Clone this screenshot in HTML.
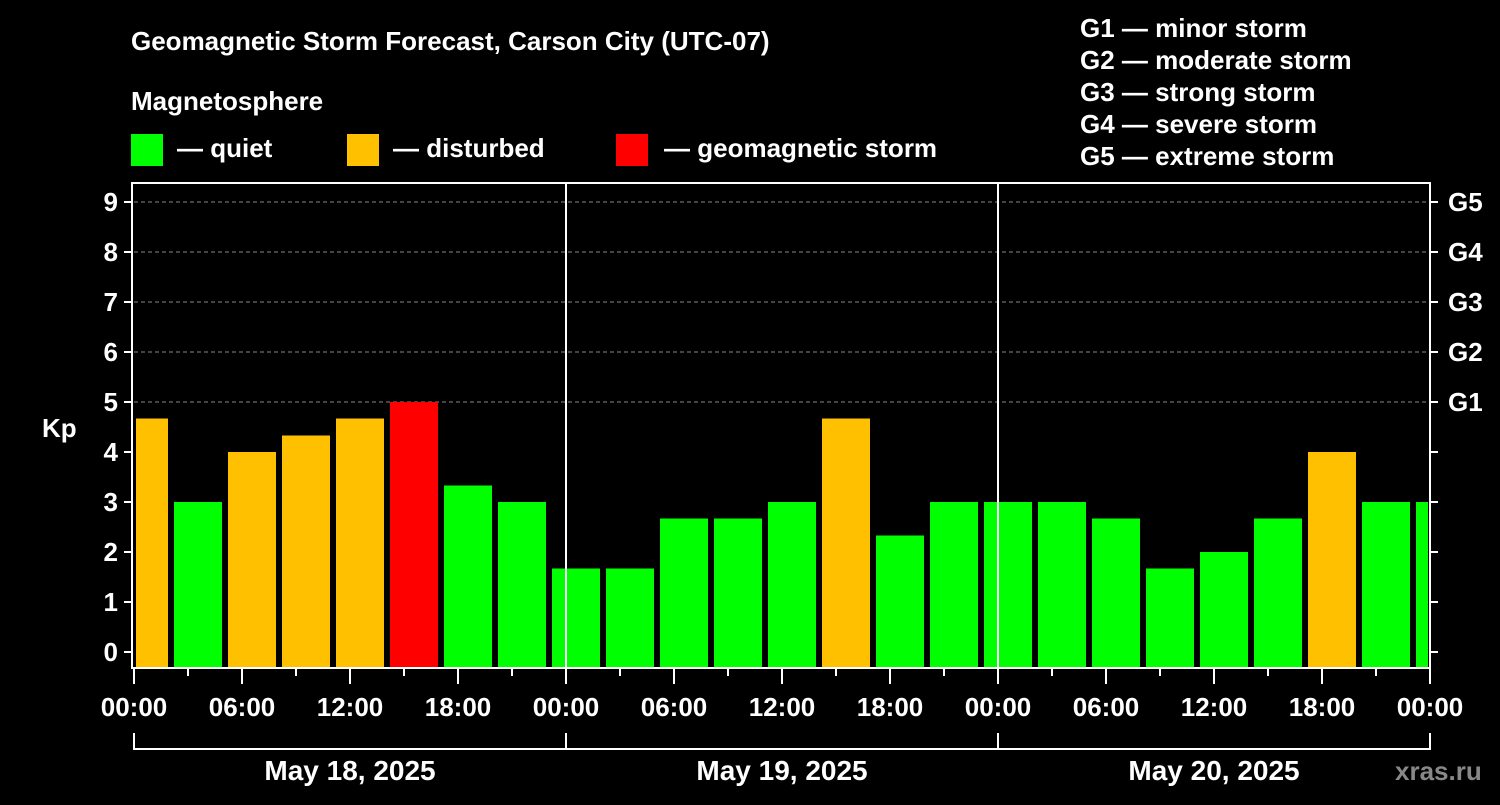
<!DOCTYPE html>
<html><head><meta charset="utf-8"><style>
body{margin:0;background:#000;width:1500px;height:800px;overflow:hidden}
svg text{font-family:"Liberation Sans",Arial,sans-serif;font-weight:bold;fill:#fff}
</style></head><body>
<svg id="chart" width="1500" height="800" xmlns="http://www.w3.org/2000/svg">
<rect width="1500" height="800" fill="#000"/>
<text x="131" y="50" font-size="26">Geomagnetic Storm Forecast, Carson City (UTC-07)</text>
<text x="131" y="110" font-size="26">Magnetosphere</text>
<g><rect x="131" y="134" width="32" height="32" fill="#00ff00"/><text x="177" y="157" font-size="26">— quiet</text></g>
<g><rect x="347" y="134" width="32" height="32" fill="#ffc000"/><text x="393" y="157" font-size="26">— disturbed</text></g>
<g><rect x="616" y="134" width="32" height="32" fill="#ff0000"/><text x="664" y="157" font-size="26">— geomagnetic storm</text></g>
<g font-size="26">
<text x="1080" y="37">G1 — minor storm</text>
<text x="1080" y="69">G2 — moderate storm</text>
<text x="1080" y="101">G3 — strong storm</text>
<text x="1080" y="133">G4 — severe storm</text>
<text x="1080" y="165">G5 — extreme storm</text>
</g>
<g id="grid"></g>
<g id="bars"></g>
<g id="axes"></g>
<text x="42" y="437" font-size="26">Kp</text>
<text x="1395" y="780" font-size="26" style="fill:#888">xras.ru</text>
</svg>
<script>
const kpValues=[4.67,3,4,4.33,4.67,5,3.33,3,1.67,1.67,2.67,2.67,3,4.67,2.33,3,3,3,2.67,1.67,2,2.67,4,3,3];
const yTicks=[0,1,2,3,4,5,6,7,8,9];
const gLabels=["G1","G2","G3","G4","G5"];
const hourLabels=["00:00","06:00","12:00","18:00","00:00","06:00","12:00","18:00","00:00","06:00","12:00","18:00","00:00"];
const dayLabels=["May 18, 2025","May 19, 2025","May 20, 2025"];
const NS="http://www.w3.org/2000/svg";
const L=134,R=1430,T=183,B=668;
const x=h=>L+(R-L)*h/72;
const y=v=>652-50*v;
function mk(p,t,a){const e=document.createElementNS(NS,t);for(const k in a)e.setAttribute(k,a[k]);p.appendChild(e);return e;}
const grid=document.getElementById('grid'),bars=document.getElementById('bars'),axes=document.getElementById('axes');
for(let v=5;v<=9;v++){const l=mk(grid,'line',{x1:L,x2:R,y1:y(v),y2:y(v),stroke:'#888','stroke-dasharray':'4,3','stroke-width':1});

}
kpValues.forEach((v,i)=>{
 const s=i*3-1,e=s+3;
 let x1=Math.max(x(s)+4,L+2),x2=Math.min(x(e)-2,R-2);
 const c=v>=5?'#ff0000':(v>=4?'#ffc000':'#00ff00');
 const r=mk(bars,'rect',{x:x1,y:y(v),width:x2-x1,height:B-y(v),fill:c});
 
 
});
[x(24),x(48)].forEach(xx=>{const l=mk(axes,'line',{x1:xx,x2:xx,y1:T,y2:B,stroke:'#fff','stroke-width':2});

});
const fr=mk(axes,'rect',{x:L-2,y:T,width:R-L+2,height:B-T,fill:'none',stroke:'#fff','stroke-width':2});


yTicks.forEach(v=>{
 mk(axes,'line',{x1:L-10,x2:L-2,y1:y(v),y2:y(v),stroke:'#fff','stroke-width':2});
 mk(axes,'line',{x1:R,x2:R+8,y1:y(v),y2:y(v),stroke:'#fff','stroke-width':2});
 const t=mk(axes,'text',{x:L-16,y:y(v)+9,'text-anchor':'end','font-size':26});t.textContent=v;
 
 
});
gLabels.forEach((g,i)=>{const t=mk(axes,'text',{x:R+18,y:y(5+i)+9,'font-size':26});t.textContent=g;
 
 });
for(let h=0;h<=72;h+=3){const big=h%6===0;mk(axes,'line',{x1:x(h),x2:x(h),y1:B,y2:B+(big?16:8),stroke:'#fff','stroke-width':2});}
hourLabels.forEach((lb,i)=>{const t=mk(axes,'text',{x:x(i*6),y:716,'text-anchor':'middle','font-size':26});t.textContent=lb;
 
 });
mk(axes,'line',{x1:L,x2:R,y1:749,y2:749,stroke:'#fff','stroke-width':2});
for(let d=0;d<=3;d++)mk(axes,'line',{x1:x(d*24),x2:x(d*24),y1:733,y2:750,stroke:'#fff','stroke-width':2});
dayLabels.forEach((lb,i)=>{const t=mk(axes,'text',{x:x(i*24+12),y:780,'text-anchor':'middle','font-size':28});t.textContent=lb;
 
 });
</script>
</body></html>
